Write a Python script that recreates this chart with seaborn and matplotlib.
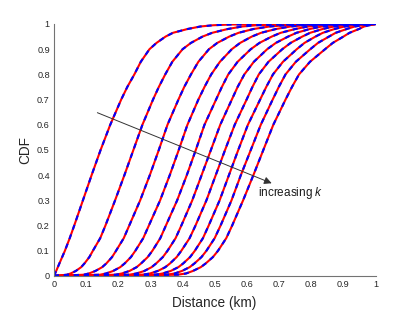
import matplotlib
matplotlib.use("Agg")
import matplotlib.pyplot as plt
import seaborn as sns
import pandas as pd

cdf_levels = [0, 0.005, 0.01, 0.02, 0.035, 0.05, 0.075, 0.1, 0.15, 0.2, 0.3, 0.4,
              0.5, 0.6, 0.7, 0.75, 0.8, 0.85, 0.9, 0.925, 0.95, 0.965, 0.98,
              0.99, 0.995, 0.998, 1.0]

# distance (km) for each k at the CDF levels above
dist_k1 = [0, 0.0018, 0.0035, 0.007, 0.012, 0.017, 0.0255, 0.034, 0.049, 0.063, 0.090, 0.117,
           0.145, 0.175, 0.209, 0.228, 0.250, 0.270, 0.297, 0.319, 0.347, 0.370, 0.415,
           0.455, 0.495, 0.55, 1.0]
dist_k2 = [0, 0.040, 0.0518, 0.068, 0.0845, 0.095, 0.110, 0.121, 0.1438, 0.160, 0.190, 0.219,
           0.247, 0.275, 0.308, 0.326, 0.346, 0.368, 0.400, 0.426, 0.462, 0.492, 0.54,
           0.585, 0.63, 0.689, 1.0]
dist_k3 = [0, 0.092, 0.1088, 0.129, 0.1498, 0.163, 0.1806, 0.193, 0.217, 0.234, 0.268, 0.298,
           0.326, 0.353, 0.387, 0.405, 0.426, 0.449, 0.482, 0.508, 0.545, 0.574, 0.62,
           0.67, 0.72, 0.786, 1.0]
dist_k4 = [0, 0.143, 0.1622, 0.184, 0.206, 0.220, 0.2393, 0.253, 0.2776, 0.295, 0.330, 0.360,
           0.388, 0.415, 0.449, 0.468, 0.489, 0.516, 0.553, 0.579, 0.615, 0.644, 0.69,
           0.735, 0.78, 0.839, 1.0]
dist_k5 = [0, 0.191, 0.2112, 0.235, 0.257, 0.271, 0.2915, 0.306, 0.3306, 0.348, 0.383, 0.413,
           0.441, 0.468, 0.504, 0.522, 0.542, 0.571, 0.612, 0.639, 0.677, 0.705, 0.75,
           0.79, 0.83, 0.883, 1.0]
dist_k6 = [0, 0.235, 0.2565, 0.281, 0.3036, 0.318, 0.3385, 0.353, 0.3782, 0.396, 0.430, 0.459,
           0.488, 0.517, 0.553, 0.571, 0.592, 0.6215, 0.663, 0.690, 0.728, 0.754, 0.795,
           0.8325, 0.87, 0.92, 1.0]
dist_k7 = [0, 0.277, 0.2986, 0.323, 0.3462, 0.361, 0.3815, 0.396, 0.4217, 0.440, 0.474, 0.503,
           0.532, 0.562, 0.599, 0.617, 0.637, 0.667, 0.710, 0.736, 0.772, 0.7965, 0.835,
           0.87, 0.905, 0.951, 1.0]
dist_k8 = [0, 0.316, 0.338, 0.363, 0.3868, 0.402, 0.4231, 0.438, 0.4632, 0.481, 0.515, 0.544,
           0.573, 0.603, 0.641, 0.660, 0.681, 0.712, 0.755, 0.779, 0.813, 0.836, 0.872,
           0.9035, 0.935, 0.968, 1.0]
dist_k9 = [0, 0.350, 0.3755, 0.398, 0.4218, 0.437, 0.4586, 0.474, 0.4997, 0.518, 0.552, 0.581,
           0.612, 0.643, 0.680, 0.699, 0.720, 0.752, 0.797, 0.821, 0.855, 0.876, 0.910,
           0.935, 0.960, 0.983, 1.0]
dist_k10 = [0, 0.384, 0.4108, 0.432, 0.4564, 0.472, 0.4942, 0.510, 0.5357, 0.554, 0.588, 0.620,
            0.651, 0.682, 0.720, 0.740, 0.762, 0.796, 0.843, 0.867, 0.900, 0.919, 0.948,
            0.964, 0.980, 0.993, 1.0]

curves = [dist_k1, dist_k2, dist_k3, dist_k4, dist_k5,
          dist_k6, dist_k7, dist_k8, dist_k9, dist_k10]

tick_values = [0, 0.1, 0.2, 0.3, 0.4, 0.5, 0.6, 0.7, 0.8, 0.9, 1]
tick_labels = ["0", "0.1", "0.2", "0.3", "0.4", "0.5", "0.6", "0.7", "0.8", "0.9", "1"]

sns.set_style("white")
plt.rcParams["font.family"] = ["Liberation Sans", "DejaVu Sans"]
plt.rcParams["mathtext.fontset"] = "custom"
plt.rcParams["mathtext.it"] = "Liberation Sans:italic"
plt.rcParams["mathtext.rm"] = "Liberation Sans"

fig = plt.figure(figsize=(4.15, 3.12), dpi=100)
ax = fig.add_axes([0.130, 0.1154, 0.775, 0.8077])

rows = []
for i, c in enumerate(curves):
    for d, p in zip(c, cdf_levels):
        rows.append({"k": i + 1, "distance": d, "cdf": p})
df = pd.DataFrame(rows)

for k, sub in df.groupby("k"):
    sns.lineplot(data=sub, x="distance", y="cdf", sort=False, estimator=None,
                 color="#ff0000", linewidth=1.5, ax=ax, legend=False)
for k, sub in df.groupby("k"):
    sns.lineplot(data=sub, x="distance", y="cdf", sort=False, estimator=None,
                 color="#0000ff", linewidth=1.5, linestyle=(0, (2.4, 2.4)),
                 ax=ax, legend=False)

ax.set_xlim(0, 1)
ax.set_ylim(0, 1)
ax.set_xticks(tick_values)
ax.set_xticklabels(tick_labels)
ax.set_yticks(tick_values)
ax.set_yticklabels(tick_labels)
ax.tick_params(direction="in", length=3, width=0.6, colors="0.45",
               labelcolor="0.15", labelsize=6.6, pad=3)
for s in ["top", "right"]:
    ax.spines[s].set_visible(False)
for s in ["left", "bottom"]:
    ax.spines[s].set_color("0.45")
    ax.spines[s].set_linewidth(0.8)

ax.set_xlabel("Distance (km)", fontsize=9.8, color="0.15")
ax.set_ylabel("CDF", fontsize=9.8, color="0.15")
ax.xaxis.set_label_coords(0.499, -0.107)
ax.xaxis.label.set_va("center")
ax.yaxis.set_label_coords(-0.090, 0.5)
ax.yaxis.label.set_va("center")

ax.annotate("", xy=(0.677, 0.368), xytext=(0.135, 0.648),
            arrowprops=dict(arrowstyle="-|>", color="0.2", lw=0.7,
                            mutation_scale=11, shrinkA=0, shrinkB=0))
ax.text(0.635, 0.328, "increasing $k$", fontsize=8.5, color="0.1",
        ha="left", va="center")

fig.savefig("out.png", dpi=100)
